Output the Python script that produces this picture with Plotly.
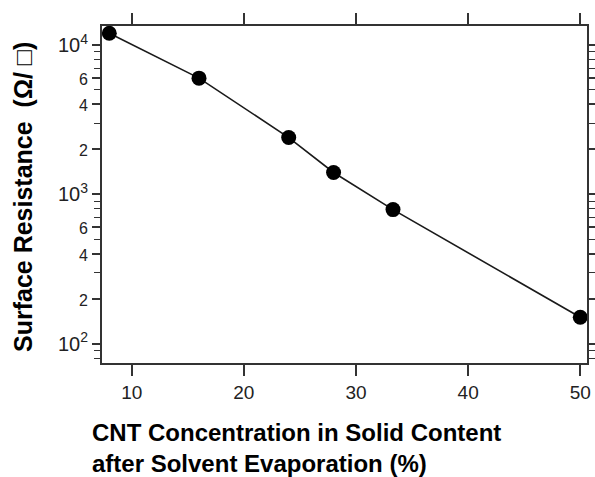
import plotly.graph_objects as go

# Data
cnt_pct = [8, 16, 24, 28, 33.3, 50]
resistance = [12000, 6000, 2400, 1400, 790, 150]

x_ticks = [10, 20, 30, 40, 50]
y_major_vals = [100, 200, 400, 600, 1000, 2000, 4000, 6000, 10000]
y_major_text = ["10<sup>2</sup>", "2", "4", "6", "10<sup>3</sup>", "2", "4", "6", "10<sup>4</sup>"]
y_minor_vals = [80, 90, 300, 500, 700, 800, 900, 3000, 5000, 7000, 8000, 9000]

x_title_lines = ["CNT Concentration in Solid Content", "after Solvent Evaporation (%)"]
y_title = "Surface Resistance  (Ω/ □)"

W, H = 595, 477
L, R, T, B = 102, 587, 26, 363

def fmt_ytick(t):
    if t.startswith("10"):
        return t
    return '<span style="font-size:16px">' + t + "</span>"

fig = go.Figure()
fig.add_trace(go.Scatter(
    x=cnt_pct, y=resistance, mode="lines+markers",
    line=dict(color="#1a1a1a", width=1.6),
    marker=dict(size=15, color="black"),
    cliponaxis=False, showlegend=False,
))

axis_col = "#333333"
fig.update_layout(
    width=W, height=H,
    margin=dict(l=L, r=W - R, t=T, b=H - B, pad=0, autoexpand=False),
    paper_bgcolor="white", plot_bgcolor="white",
    font=dict(family="Liberation Sans, Arial, sans-serif", color="#222222"),
    xaxis=dict(
        range=[7.35, 50.6], tickvals=x_ticks, ticktext=[str(v) for v in x_ticks],
        ticks="outside", ticklen=11, tickwidth=1.6, tickcolor=axis_col,
        showline=True, linecolor=axis_col, linewidth=2, mirror="ticks",
        showgrid=False, zeroline=False,
        tickfont=dict(size=19, color="#222222"),
    ),
    yaxis=dict(
        type="log", range=[1.870, 4.1275],
        tickvals=y_major_vals, ticktext=[fmt_ytick(t) for t in y_major_text],
        ticks="outside", ticklen=8, tickwidth=1.6, tickcolor=axis_col,
        showline=True, linecolor=axis_col, linewidth=2, mirror="ticks",
        showgrid=False, zeroline=False,
        tickfont=dict(size=20, color="#222222"),
        minor=dict(tickmode="array", tickvals=y_minor_vals, ticks="outside",
                   ticklen=6, tickwidth=1.4, tickcolor=axis_col, showgrid=False),
    ),
)

def px_x(px):
    return (px - L) / (R - L)

def px_y(py):
    return (B - py) / (B - T)

for line_text, cy in zip(x_title_lines, [432, 463]):
    fig.add_annotation(
        text="<b>" + line_text + "</b>",
        xref="paper", yref="paper", x=px_x(90), y=px_y(cy),
        xanchor="left", yanchor="middle", align="left", showarrow=False,
        font=dict(size=24, color="black", family="Liberation Sans, Arial, sans-serif"),
    )
fig.add_annotation(
    text="<b>" + y_title + "</b>",
    xref="paper", yref="paper", x=px_x(23), y=px_y(197),
    xanchor="center", yanchor="middle", textangle=-90, showarrow=False,
    font=dict(size=25, color="black", family="Liberation Sans, Arial, sans-serif"),
)

fig.write_html(
    "out.html",
    config={"displayModeBar": False},
    post_script="document.body.style.margin='0';document.body.style.overflow='hidden';",
)
